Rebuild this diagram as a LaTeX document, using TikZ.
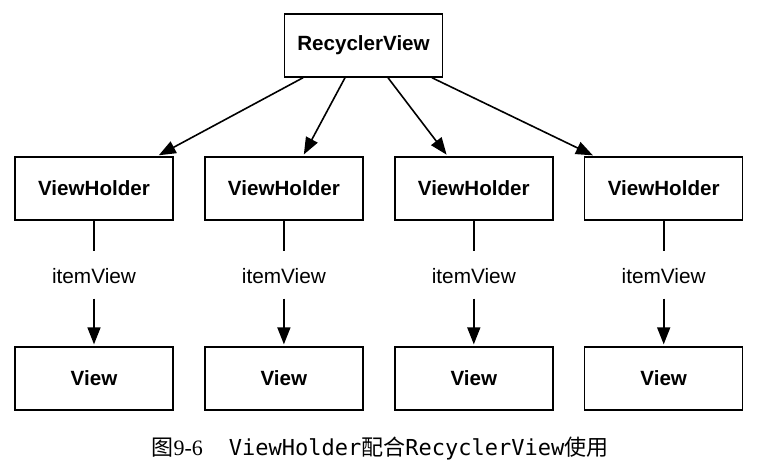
\documentclass[tikz,border=0pt]{standalone}
\usepackage{fontspec}
\setmainfont{Liberation Sans}
\newfontfamily\cjkfont{Noto Sans CJK SC}
\newfontfamily\capmono{DejaVu Sans Mono}
\newfontfamily\capserif{Liberation Serif}
\usetikzlibrary{positioning, arrows.meta}
\tikzset{
    box/.style={
           rectangle,
           draw=black, line width=0.75pt,
           minimum width=79pt,
           minimum height=31.5pt,
           inner sep=2pt,
           font=\fontsize{10.3}{12}\selectfont\bfseries,
           text centered,
           },
    role/.style={
           inner sep=0pt,
           minimum height=22pt,
           font=\fontsize{10.4}{12}\selectfont,
           },
}

\begin{document}
\begin{tikzpicture}[x=0.5pt,y=-0.5pt,->,>={Triangle[length=8.5pt,width=6.5pt]},shorten >=1pt,line width=0.8pt]
  \useasboundingbox (0,0) rectangle (761,469);

  \node[box]                          (rv)   at (363.5,45.5) {RecyclerView};
  \node[box]                          (vh1)  at (94,188.5)   {ViewHolder};
  \node[box, right=15.2pt of vh1]     (vh2)  {ViewHolder};
  \node[box, right=15.2pt of vh2]     (vh3)  {ViewHolder};
  \node[box, right=15.2pt of vh3]     (vh4)  {ViewHolder};

  \node[role, below=16.1pt of vh1]    (iv1)  {itemView};
  \node[role, below=16.1pt of vh2]    (iv2)  {itemView};
  \node[role, below=16.1pt of vh3]    (iv3)  {itemView};
  \node[role, below=16.1pt of vh4]    (iv4)  {itemView};

  \node[box, below=62.8pt of vh1]     (v1)   {View};
  \node[box, below=62.8pt of vh2]     (v2)   {View};
  \node[box, below=62.8pt of vh3]     (v3)   {View};
  \node[box, below=62.8pt of vh4]     (v4)   {View};

  \draw ([xshift=-30.25pt]rv.south) -- ([xshift=31.5pt]vh1.north);
  \draw ([xshift=-9.25pt]rv.south)  -- ([xshift=9.5pt]vh2.north);
  \draw ([xshift=12.25pt]rv.south)  -- ([xshift=-13pt]vh3.north);
  \draw ([xshift=34.25pt]rv.south)  -- ([xshift=-34.5pt]vh4.north);

  \draw[-] (vh1) -- (iv1);
  \draw[-] (vh2) -- (iv2);
  \draw[-] (vh3) -- (iv3);
  \draw[-] (vh4) -- (iv4);
  \draw (iv1) -- (v1);
  \draw (iv2) -- (v2);
  \draw (iv3) -- (v3);
  \draw (iv4) -- (v4);

  % caption
  \node[inner sep=0pt] (cap) at (380,449)
    {\fontsize{11}{13}\selectfont{\cjkfont 图}{\capserif 9-6}\hspace{13pt}{\capmono ViewHolder}{\cjkfont 配合}{\capmono RecyclerView}{\cjkfont 使用}};
\end{tikzpicture}
\end{document}
